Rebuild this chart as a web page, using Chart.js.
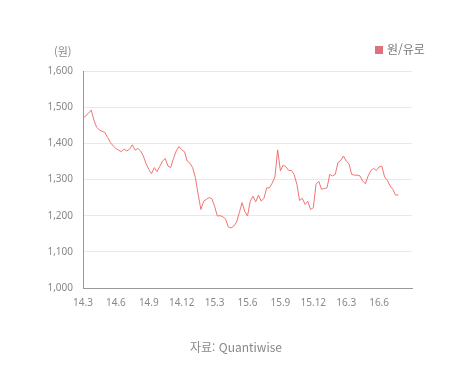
<!DOCTYPE html>
<html lang="ko">
<head>
<meta charset="utf-8">
<script src="https://cdn.jsdelivr.net/npm/chart.js@4.4.1/dist/chart.umd.min.js"></script>
<style>
  html, body { margin: 0; padding: 0; background: #fff; }
  #wrap { position: relative; width: 468px; height: 375px; font-family: "Noto Sans CJK KR", "Noto Sans", sans-serif; }
  #chart { position: absolute; left: 0; top: 0; }
  .unit { position: absolute; left: 54px; top: 43px; font-size: 11px; color: #888; }
  .legend { position: absolute; left: 375px; top: 40px; font-size: 12px; color: #777; white-space: nowrap; }
  .legend i { display: inline-block; width: 8px; height: 8px; background: #e07080; margin-right: 4px; vertical-align: 0; }
  .source { position: absolute; left: 0; width: 472px; top: 338px; text-align: center; font-size: 12px; color: #888; }
</style>
</head>
<body>
<div id="wrap">
  <canvas id="chart" width="468" height="375"></canvas>
  <div class="unit">(원)</div>
  <div class="legend"><i></i>원/유로</div>
  <div class="source">자료: Quantiwise</div>
</div>
<script>
// 원/유로 환율, 2014.3 ~ 2016.7, 약 1주 간격 (0.25개월)
const seriesName = '원/유로';
const step = 0.25;
const krwEur = [
  1470, 1476, 1483, 1492, 1464, 1444, 1437, 1433, 1430, 1416,
  1402, 1393, 1386, 1381, 1377, 1384, 1379, 1384, 1396, 1381,
  1386, 1379, 1365, 1344, 1328, 1316, 1333, 1322, 1336, 1351,
  1358, 1337, 1333, 1358, 1379, 1391, 1382, 1377, 1351, 1345,
  1333, 1305, 1259, 1217, 1240, 1245, 1250, 1247, 1226, 1199,
  1200, 1197, 1191, 1169, 1166, 1171, 1182, 1208, 1236, 1212,
  1199, 1240, 1254, 1238, 1257, 1240, 1248, 1277, 1277, 1290,
  1307, 1382, 1324, 1340, 1335, 1325, 1325, 1314, 1287, 1242,
  1248, 1231, 1240, 1217, 1222, 1287, 1295, 1273, 1275, 1277,
  1314, 1310, 1314, 1347, 1353, 1365, 1351, 1344, 1314, 1312,
  1312, 1310, 1296, 1288, 1310, 1325, 1331, 1325, 1335, 1337,
  1307, 1298, 1282, 1273, 1257, 1257
];
const xTickLabels = ['14.3', '14.6', '14.9', '14.12', '15.3', '15.6', '15.9', '15.12', '16.3', '16.6'];
const yTicks = [1000, 1100, 1200, 1300, 1400, 1500, 1600];

const points = krwEur.map((v, i) => ({ x: i * step, y: v }));

new Chart(document.getElementById('chart'), {
  type: 'line',
  data: {
    datasets: [{
      label: seriesName,
      data: points,
      borderColor: '#f07474',
      borderWidth: 1,
      pointRadius: 0,
      tension: 0,
      fill: false
    }]
  },
  options: {
    responsive: false,
    animation: false,
    layout: { padding: { top: 71, right: 56, bottom: 57, left: 0 } },
    plugins: { legend: { display: false }, tooltip: { enabled: false } },
    scales: {
      x: {
        type: 'linear',
        min: 0,
        max: 30,
        afterBuildTicks: (scale) => {
          scale.ticks = xTickLabels.map((_, i) => ({ value: i * 3 }));
        },
        afterFit: (scale) => { scale.height = 30; },
        ticks: {
          autoSkip: false,
          maxRotation: 0,
          padding: 9,
          color: '#888',
          font: { size: 10, family: '"Noto Sans", sans-serif' },
          callback: (v) => xTickLabels[Math.round(v / 3)]
        },
        grid: { display: false, drawTicks: false },
        border: { display: true, color: '#999', width: 1 }
      },
      y: {
        min: 1000,
        max: 1600,
        afterBuildTicks: (scale) => {
          scale.ticks = yTicks.map(v => ({ value: v }));
        },
        afterFit: (scale) => { scale.width = 83; },
        ticks: {
          padding: 10,
          color: '#888',
          font: { size: 10, family: '"Noto Sans", sans-serif' },
          callback: (v) => v.toLocaleString('en-US')
        },
        grid: { color: '#e8e8e8', drawTicks: false },
        border: { display: true, color: '#999', width: 1 }
      }
    }
  }
});
</script>
</body>
</html>
